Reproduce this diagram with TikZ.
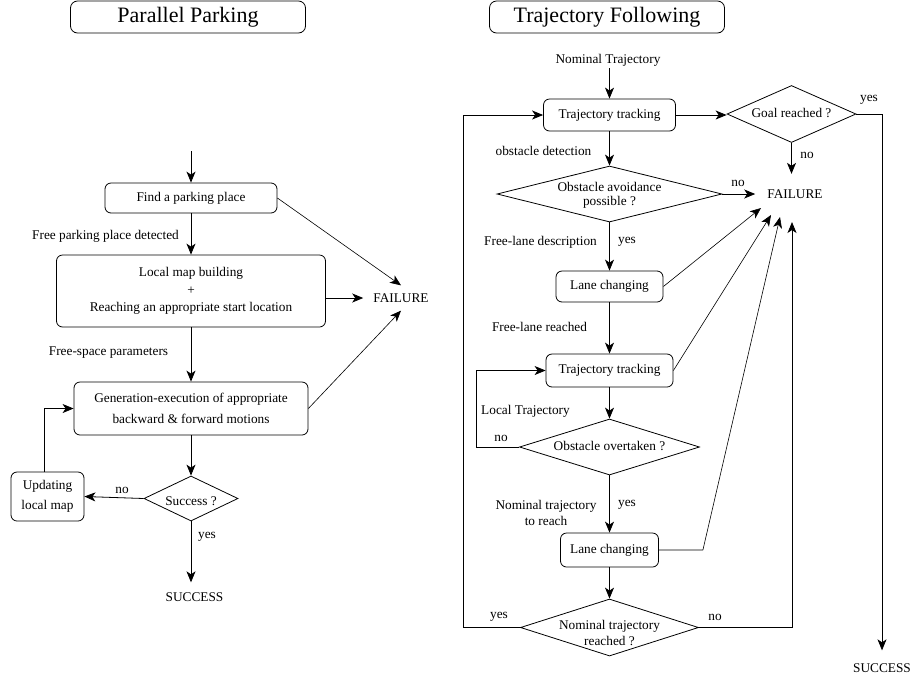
\documentclass[tikz,border=0pt]{standalone}
\usepackage{fontspec}
\setmainfont{Liberation Serif}
\usetikzlibrary{shapes.geometric,arrows.meta,calc}
\begin{document}
\begin{tikzpicture}[x=1pt,y=-1pt,
  every node/.style={font=\fontsize{13.3}{16}\selectfont, inner sep=0pt},
  box/.style={draw, rounded corners=6pt, line width=0.8pt, align=center},
  dia/.style={draw, diamond, line width=0.8pt},
  ttl/.style={draw, rounded corners=7pt, line width=0.8pt, minimum width=235pt, minimum height=32pt, font=\fontsize{22}{26}\selectfont},
  arr/.style={line width=0.8pt, -{Stealth[length=11pt,width=9pt,inset=3pt]}},
  tarr/.style={line width=0.6pt, -{Stealth[length=11pt,width=9pt,inset=3pt]}},
  lab/.style={align=center}
]
\useasboundingbox (0,0) rectangle (915,681);

% ---------- Parallel Parking ----------
\node[ttl] (t1) at (188,17) {Parallel Parking};
\coordinate (start) at (191,151);
\node[box, minimum width=172pt, minimum height=30pt] (find) at (191,198) {Find a parking place};
\node[box, minimum width=269pt, minimum height=72pt, font=\fontsize{13.3}{17.5}\selectfont] (local) at (191,291) {Local map building\\+\\Reaching an appropriate start location};
\node[box, minimum width=234pt, minimum height=53pt, font=\fontsize{13.3}{21}\selectfont] (gen) at (191,408.5) {Generation-execution of appropriate\\backward \& forward motions};
\node[dia, minimum width=94pt, minimum height=45pt] (succ) at (191,498.5) {};
\node (succT) at (191,501) {Success ?};
\node[box, minimum width=73pt, minimum height=49pt, font=\fontsize{13.3}{20}\selectfont] (upd) at (47.5,496.5) {Updating\\local map};
\node[inner xsep=10pt, inner ysep=8pt] (failL) at (401,298) {FAILURE};
\node[inner sep=10pt] (succL) at (194.5,597) {SUCCESS};

\node[lab] (l1) at (105.5,236) {Free parking place detected};
\node[lab] (l2) at (108.5,353) {Free-space parameters};
\node[lab] (l3) at (122,490) {no};
\node[lab] (l4) at (207,537) {yes};

\draw[arr] (start) -- (find.north);
\draw[arr] (find.south) -- (local.north);
\draw[arr] (local.south) -- (gen.north);
\draw[arr] (gen.south) -- (succ.north);
\draw[arr] (succ.south) -- (succ.south |- succL.north);
\draw[arr] (succ.west) -- (upd.east);
\draw[arr] ([xshift=-3.5pt]upd.north) |- (gen.west);
\draw[tarr] (find.east) -- (failL.north);
\draw[arr] (local.east |- failL.west) -- (failL.west);
\draw[tarr] (gen.east) -- (failL.south);

% ---------- Trajectory Following ----------
\node[ttl] (t2) at (607,17) {Trajectory Following};
\node[inner sep=2pt] (nomT) at (608,60) {Nominal Trajectory};
\node[box, minimum width=132pt, minimum height=32pt] (tr1) at (609.5,115) {Trajectory tracking};
\node[dia, minimum width=129pt, minimum height=57pt] (goal) at (791.5,114) {};
\node (goalT) at (791.5,113) {Goal reached ?};
\node[inner xsep=12pt, inner ysep=15.5pt] (failR) at (795,194) {FAILURE};
\node[dia, minimum width=225pt, minimum height=56pt] (obs) at (609.5,194) {};
\node[align=center, font=\fontsize{13.3}{14.5}\selectfont] (obsT) at (609.5,195.5) {Obstacle avoidance\\possible ?};
\node[box, minimum width=107pt, minimum height=31pt] (lane1) at (609.5,286.5) {Lane changing};
\node[box, minimum width=127pt, minimum height=33pt] (tr2) at (609.5,370.5) {Trajectory tracking};
\node[dia, minimum width=180pt, minimum height=56pt] (ovt) at (609.5,447) {};
\node (ovtT) at (609.5,446) {Obstacle overtaken ?};
\node[box, minimum width=98pt, minimum height=34pt] (lane2) at (609.5,550) {Lane changing};
\node[dia, minimum width=178pt, minimum height=57pt] (nomr) at (609.5,627.5) {};
\node[align=center, font=\fontsize{13.3}{16}\selectfont] (nomrT) at (609.5,633) {Nominal trajectory\\reached ?};
\node[inner xsep=2pt, inner ysep=13pt] (succR) at (882,668) {SUCCESS};

\node[lab] (r1) at (543.5,151) {obstacle detection};
\node[lab] (r2) at (807,155) {no};
\node[lab] (r3) at (869,100) {yes};
\node[lab] (r4) at (738,183) {no};
\node[lab] (r5) at (540.5,242) {Free-lane description};
\node[lab] (r6) at (627,242) {yes};
\node[lab] (r7) at (539.5,327) {Free-lane reached};
\node[lab] (r8) at (525.5,411) {Local Trajectory};
\node[lab] (r9) at (501,438) {no};
\node[lab] (r10) at (546,513) {Nominal trajectory\\to reach};
\node[lab] (r11) at (627,505) {yes};
\node[lab] (r12) at (499,617) {yes};
\node[lab] (r13) at (715,617) {no};

\draw[arr] (nomT.south -| tr1.north) -- (tr1.north);
\draw[arr] (tr1.east) -- (tr1.east -| goal.west);
\draw[arr] (goal.south) -- (goal.south |- failR.north);
\draw[arr] (goal.east) -| (succR.north);
\draw[arr] (tr1.south) -- (obs.north);
\draw[arr] (obs.east) -- (failR.west);
\draw[arr] (obs.south) -- (lane1.north);
\draw[arr] (lane1.south) -- (tr2.north);
\draw[arr] (tr2.south) -- (ovt.north);
\draw[arr] (ovt.south) -- (lane2.north);
\draw[arr] (lane2.south) -- (nomr.north);
\draw[arr] (ovt.west) -- ++(-43,0) |- (tr2.west);
\draw[arr] (nomr.west) -- ++(-57,0) |- (tr1.west);
\draw[tarr] (lane1.east) -- ($(failR)+(-34,14)$);
\draw[tarr] (tr2.east) -- ($(failR)+(-24,21)$);
\draw[tarr] (lane2.east) -- ++(44,0) -- ($(failR)+(-15,23)$);
\draw[arr] (nomr.east) -| ($(failR)+(-3,28)$);
\end{tikzpicture}
\end{document}
